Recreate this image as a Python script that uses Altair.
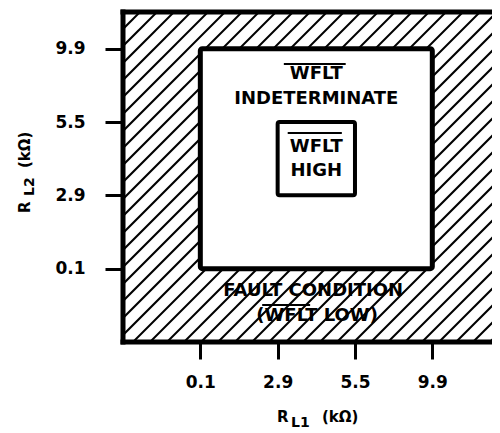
import json
import altair as alt
import pandas as pd

# ---- data ----
tick_labels = ["0.1", "2.9", "5.5", "9.9"]          # both axes, equally spaced
tick_pos = [0, 1, 2, 3]

# boxes, in tick-index units (outer WFLT-indeterminate box, inner WFLT-high box)
box_x1 = [0, 1]
box_x2 = [3, 2]
box_y1 = [0, 1]
box_y2 = [3, 2]
box_sw = [5, 4]

# region labels
lab_text = ["WFLT", "INDETERMINATE", "WFLT", "HIGH", "FAULT CONDITION", "(WFLT LOW)"]
lab_x = [1.5, 1.5, 1.5, 1.5, 1.46, 1.51]
lab_y = [2.66, 2.31, 1.66, 1.33, -0.30, -0.645]

# overlines over WFLT
ol_x1 = [1.08, 1.13, 0.80]
ol_x2 = [1.88, 1.83, 1.42]
ol_y = [2.79, 1.85, -0.495]

# ---- layout ----
XMIN, XMAX = -1.0, 3.772
YMIN, YMAX = -1.0, 3.5
W, H = 369, 330
FONT = "DejaVu Sans"

sx = W / (XMAX - XMIN)
hatch_step = 17
hatch = pd.DataFrame(
    [{"hx1": XMIN + c / sx, "hx2": XMIN + (c + H) / sx, "hy1": YMIN, "hy2": YMAX}
     for c in range(-H - hatch_step, W + hatch_step, hatch_step)]
)

label_expr = json.dumps(tick_labels) + "[datum.value]"

def xenc(field):
    return alt.X(field, type="quantitative",
                 scale=alt.Scale(domain=[XMIN, XMAX], nice=False, zero=False),
                 axis=alt.Axis(values=tick_pos, labelExpr=label_expr, title=None,
                               grid=False, domain=False, tickSize=17, tickWidth=3,
                               tickColor="black", labelColor="black", labelFont=FONT,
                               labelFontWeight="bold", labelFontSize=17, labelPadding=15))

def yenc(field):
    return alt.Y(field, type="quantitative",
                 scale=alt.Scale(domain=[YMIN, YMAX], nice=False, zero=False),
                 axis=alt.Axis(values=tick_pos, labelExpr=label_expr, title=None,
                               grid=False, domain=False, tickSize=18, tickWidth=3,
                               tickColor="black", labelColor="black", labelFont=FONT,
                               labelFontWeight="bold", labelFontSize=17, labelPadding=20))

hatch_layer = alt.Chart(hatch).mark_rule(color="black", strokeWidth=2, clip=True).encode(
    x=xenc("hx1"), x2="hx2", y=yenc("hy1"), y2="hy2")

frame = pd.DataFrame({
    "fx1": [XMIN, XMIN, XMIN], "fx2": [XMIN, XMAX, XMAX],
    "fy1": [YMIN, YMAX, YMIN], "fy2": [YMAX, YMAX, YMIN]})
frame_layer = alt.Chart(frame).mark_rule(color="black", strokeWidth=5, strokeCap="square").encode(
    x=xenc("fx1"), x2="fx2", y=yenc("fy1"), y2="fy2")

boxes = pd.DataFrame({"bx1": box_x1, "bx2": box_x2, "by1": box_y1, "by2": box_y2, "sw": box_sw})
box_layer = alt.Chart(boxes).mark_rect(fill="white", stroke="black", cornerRadius=2).encode(
    x=xenc("bx1"), x2="bx2", y=yenc("by1"), y2="by2",
    strokeWidth=alt.StrokeWidth("sw:Q", scale=None))

labels = pd.DataFrame({"t": lab_text, "lx": lab_x, "ly": lab_y})
label_layer = alt.Chart(labels).mark_text(
    font=FONT, fontWeight="bold", fontSize=18, color="black", align="center", baseline="middle"
).encode(x=xenc("lx"), y=yenc("ly"), text="t:N")

overl = pd.DataFrame({"ox1": ol_x1, "ox2": ol_x2, "oy": ol_y})
ol_layer = alt.Chart(overl).mark_rule(color="black", strokeWidth=2).encode(
    x=xenc("ox1"), x2="ox2", y=yenc("oy"))

# axis titles with subscripts
def ttext(txt, x, y, size, angle=0):
    kw = dict(font=FONT, fontWeight="bold", fontSize=size, color="black",
              align="left", baseline="alphabetic", text=txt)
    if angle:
        kw["angle"] = angle
    return alt.Chart(pd.DataFrame({"a": [0]})).mark_text(**kw).encode(
        x=alt.value(x), y=alt.value(y))

titles = [
    ttext("R", 154, 410, 15),
    ttext("L1", 168, 415, 14),
    ttext("(kΩ)", 199, 410, 15),
    ttext("R", -93, 201, 15, 270),
    ttext("L2", -89, 184, 14, 270),
    ttext("(kΩ)", -93, 156, 15, 270),
]

chart = alt.layer(hatch_layer, box_layer, frame_layer, label_layer, ol_layer, *titles).properties(
    width=W, height=H,
    autosize=alt.AutoSizeParams(type="none"),
    padding={"left": 115, "top": 4, "right": 0, "bottom": 90},
).configure_view(stroke=None).configure(background="white")

chart.save("out.html", embed_options={"renderer": "svg", "actions": False})
